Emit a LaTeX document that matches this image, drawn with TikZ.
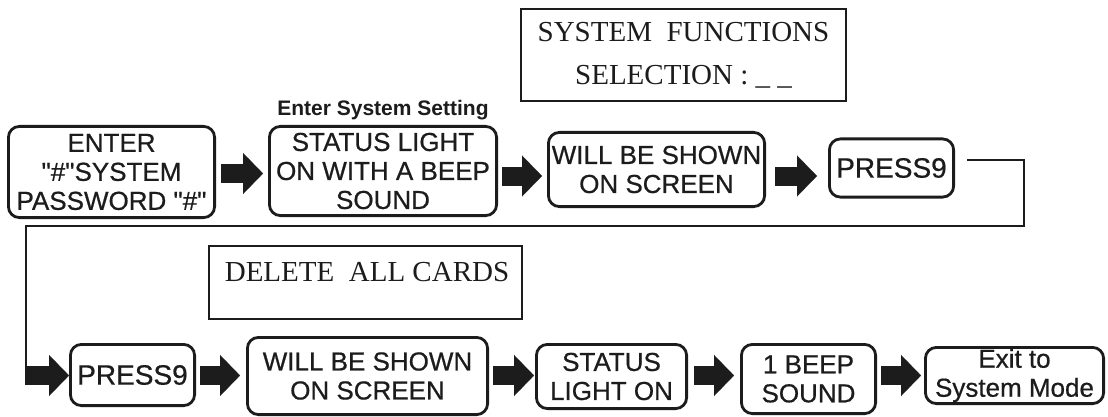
\documentclass[tikz,border=0pt]{standalone}
\usepackage{fontspec}
\setmainfont{Liberation Sans}
\newfontfamily\boxface{Liberation Sans}[FakeBold=0.6]
\newfontfamily\serifface{Liberation Serif}
\usetikzlibrary{arrows.meta}
\definecolor{ink}{RGB}{28,28,28}
\newcommand{\qq}{\textquotedbl}
\tikzset{
  flowbox/.style={draw=ink, line width=2.8pt, rounded corners=11pt, align=center, inner sep=0pt, text=ink, font=\boxface\fontsize{26}{29}\selectfont},
  serifbox/.style={draw=ink, line width=2.2pt, inner sep=0pt, align=center, text=ink, font=\serifface\fontsize{29}{43}\selectfont},
  plaintext/.style={text=ink, inner sep=0pt},
  blockarr/.style={draw=ink, line width=19pt, -{Triangle[length=20pt,width=41pt,line width=0.1pt]}},
  loopline/.style={draw=ink, line width=2.6pt},
}
\begin{document}
\begin{tikzpicture}[x=1pt,y=-1pt]
\fill[white] (0,0) rectangle (1108,417);
\useasboundingbox (0,0) rectangle (1108,417);
\coordinate (rowA) at (0,173.5);
\coordinate (rowB) at (0,176);
\coordinate (rowC) at (0,375.5);

% display boxes
\node[serifbox, minimum width=324.8pt, minimum height=91.8pt] (sysfun) at (683.5,55) {SYSTEM\ \ FUNCTIONS\\SELECTION : \_ \_};
\node[serifbox, minimum width=312.8pt, minimum height=72.8pt] (delbox) at (365.5,282.5) {};
\node[plaintext, font=\serifface\fontsize{29}{34}\selectfont] (deltext) at (367,272) {DELETE\ \ ALL CARDS};

% top row
\node[plaintext, font=\bfseries\fontsize{21}{24}\selectfont] (setting) at (383,110) {Enter System Setting};
\node[flowbox, minimum width=206.2pt, minimum height=91.2pt] (enter) at (111.5,172) {ENTER\\\qq\#\qq SYSTEM\\PASSWORD \qq\#\qq};
\node[flowbox, minimum width=227.2pt, minimum height=89.2pt] (status) at (383,171) {STATUS LIGHT\\ON WITH A BEEP\\SOUND};
\node[flowbox, minimum width=216.2pt, minimum height=74.2pt] (shown) at (656.5,169.5) {WILL BE SHOWN\\ON SCREEN};
\node[flowbox, minimum width=124.2pt, minimum height=58.2pt, font=\boxface\fontsize{28}{30}\selectfont] (pressa) at (891.5,168) {PRESS9};

% bottom row
\node[flowbox, minimum width=124.2pt, minimum height=61.2pt, font=\boxface\fontsize{28}{30}\selectfont] (pressb) at (132.5,375) {PRESS9};
\node[flowbox, minimum width=240.2pt, minimum height=77.2pt] (shownb) at (367.5,376) {WILL BE SHOWN\\ON SCREEN};
\node[flowbox, minimum width=150.2pt, minimum height=64.2pt] (light) at (611.5,376.5) {STATUS\\LIGHT ON};
\node[flowbox, minimum width=134.2pt, minimum height=69.2pt] (beep) at (808.5,379) {1 BEEP\\SOUND};
\node[flowbox, minimum width=178.2pt, minimum height=56.2pt] (exit) at (1014.5,375.5) {Exit to\\System Mode};

% block arrows, top row
\draw[blockarr, shorten <=5pt, shorten >=5pt] (enter.east |- rowA) -- (status.west |- rowA);
\draw[blockarr, shorten <=4pt, shorten >=5pt] (status.east |- rowB) -- (shown.west |- rowB);
\draw[blockarr, shorten <=9pt, shorten >=11pt] (shown.east |- rowB) -- (pressa.west |- rowB);

% loop connector
\coordinate (ls) at ([xshift=12pt,yshift=8pt]pressa.east);
\coordinate (lc1) at (1024,226);
\coordinate (lc2) at (26,226);
\coordinate (lc3) at (lc2 |- rowC);
\draw[loopline] (ls) -| (lc1) -- (lc2) -- (lc3);
\draw[blockarr] ([xshift=-1.3pt]lc3) -- (pressb.west |- rowC);

% block arrows, bottom row
\draw[blockarr, shorten <=4pt, shorten >=6pt] (pressb.east |- rowC) -- (shownb.west |- rowC);
\draw[blockarr, shorten <=4pt, shorten >=1pt] (shownb.east |- rowC) -- (light.west |- rowC);
\draw[blockarr, shorten <=6pt, shorten >=6pt] (light.east |- rowC) -- (beep.west |- rowC);
\draw[blockarr, shorten <=4pt, shorten >=3pt] (beep.east |- rowC) -- (exit.west |- rowC);
\end{tikzpicture}
\end{document}
